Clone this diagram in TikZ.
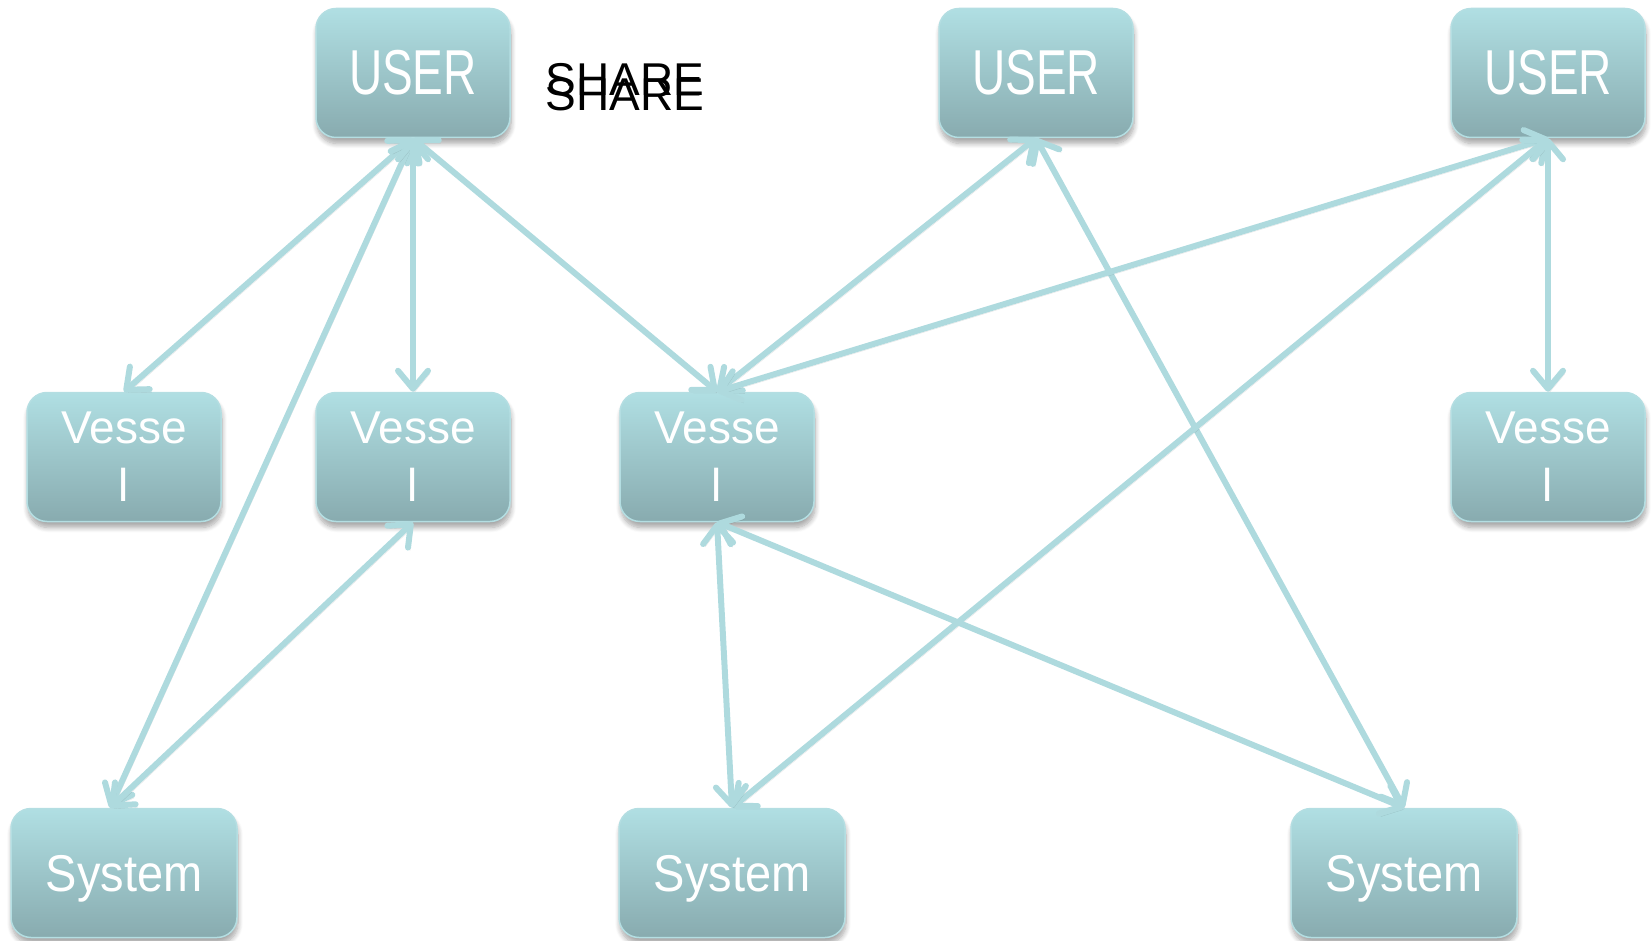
\documentclass[tikz,border=0pt]{standalone}
\usepackage{xcolor}
\definecolor{TealTop}{HTML}{B0DFE3}
\definecolor{TealBottom}{HTML}{88ABAF}
\definecolor{TealEdge}{HTML}{B4DEE2}
\definecolor{TealLine}{HTML}{AEDADE}
\usepackage{graphicx}
\usepackage{fontspec}
\setmainfont{Liberation Sans}
\usepackage{tikz}
\usetikzlibrary{arrows.meta,shadows.blur}

\begin{document}
\begin{tikzpicture}[x=1pt,y=-1pt,
  box/.style={draw=TealEdge,line width=1.5pt,rounded corners=20pt,top color=TealTop,bottom color=TealBottom,
    minimum width=194pt,minimum height=129pt,text=white,align=center,inner sep=0pt,
    font=\fontsize{46}{58}\selectfont,
    blur shadow={shadow xshift=1pt,shadow yshift=-6pt,shadow blur radius=5pt,shadow blur steps=8,shadow opacity=35}},
  sysbox/.style={box,minimum width=226pt,text depth=0pt,font=\fontsize{47}{58}\selectfont},
  arr/.style={{Straight Barb[round,length=18pt,width=30pt]}-{Straight Barb[round,length=18pt,width=30pt]},
    line width=6pt,line cap=round,TealLine,
    preaction={draw=black,opacity=0.1,transform canvas={xshift=2pt,yshift=-3pt}}},
  lbl/.style={font=\fontsize{46}{50}\selectfont,inner sep=0pt}
]
  \useasboundingbox (0,0) rectangle (1651,941);
  \node[box] (u1) at (413,73) {\scalebox{1}[1.38]{USER}};
  \node[box] (u2) at (1036,73) {\scalebox{1}[1.38]{USER}};
  \node[box] (u3) at (1548,73) {\scalebox{1}[1.38]{USER}};
  \node[lbl] (sh1) at (625,79.5) {SHARE};
  \node[lbl] (sh2) at (625,94.5) {SHARE};
  \node[box] (v1) at (124,457) {Vesse\\l};
  \node[box] (v2) at (413,457) {Vesse\\l};
  \node[box] (v3) at (717,457) {Vesse\\l};
  \node[box] (v4) at (1548,457) {Vesse\\l};
  \node[sysbox] (s1) at (124,873) {\scalebox{1}[1.1]{System}};
  \node[sysbox] (s2) at (732,873) {\scalebox{1}[1.1]{System}};
  \node[sysbox] (s3) at (1404,873) {\scalebox{1}[1.1]{System}};
  \draw[arr] (u1.south) -- (v1.north);
  \draw[arr] (u1.south) -- ([xshift=-14pt]s1.north);
  \draw[arr] (u1.south) -- (v2.north);
  \draw[arr] (u1.south) -- (v3.north);
  \draw[arr] (v2.south) -- ([xshift=-14pt]s1.north);
  \draw[arr] (u2.south) -- (v3.north);
  \draw[arr] (u2.south) -- (s3.north);
  \draw[arr] (u3.south) -- (v3.north);
  \draw[arr] (u3.south) -- (s2.north);
  \draw[arr] (u3.south) -- (v4.north);
  \draw[arr] (v3.south) -- (s2.north);
  \draw[arr] (v3.south) -- (s3.north);
\end{tikzpicture}
\end{document}
